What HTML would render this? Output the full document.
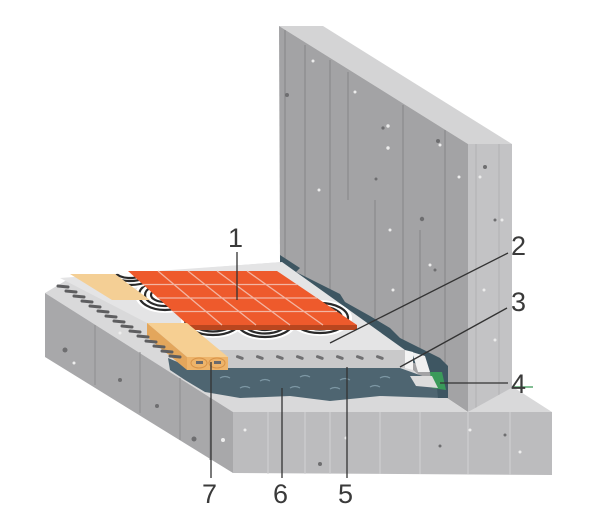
<!DOCTYPE html>
<html><head><meta charset="utf-8"><style>
html,body{margin:0;padding:0;background:#fff;width:600px;height:530px;overflow:hidden}
svg{display:block}
text{font-family:"Liberation Sans",sans-serif;font-size:27px;fill:#3a3a3a}
</style></head><body>
<svg width="600" height="530" viewBox="0 0 600 530" xmlns="http://www.w3.org/2000/svg">
<defs>
<clipPath id="scr"><polygon points="60,278 282,262 405,350 187,350 147,323"/></clipPath>
</defs>
<!-- wall -->
<polygon points="323,26 279,26 468,144 512,144" fill="#d4d4d5"/>
<polygon points="279,26 468,144 468,412 447,398 280,262" fill="#a3a3a5"/>
<polygon points="468,144 512,144 512,392 468,412" fill="#c3c3c5"/>
<g stroke="#8a8a8c" stroke-width="1.2">
<line x1="285" y1="30" x2="285" y2="262"/><line x1="305" y1="45" x2="305" y2="280"/>
<line x1="330" y1="60" x2="330" y2="300"/><line x1="348" y1="72" x2="348" y2="200"/>
<line x1="403" y1="105" x2="403" y2="345"/><line x1="445" y1="130" x2="445" y2="390"/>
<line x1="420" y1="230" x2="420" y2="360"/><line x1="375" y1="200" x2="375" y2="330"/>
</g>
<g stroke="#b0b0b2" stroke-width="1"><line x1="499" y1="144" x2="499" y2="395"/><line x1="476" y1="144" x2="476" y2="408"/></g>
<g fill="#ececec"><circle cx="313" cy="61" r="1.5"/><circle cx="355" cy="92" r="1.5"/><circle cx="388" cy="126" r="1.7"/><circle cx="388" cy="148" r="1.7"/><circle cx="390" cy="230" r="1.5"/><circle cx="440" cy="145" r="1.5"/><circle cx="459" cy="177" r="1.5"/><circle cx="319" cy="190" r="1.5"/><circle cx="393" cy="290" r="1.5"/><circle cx="430" cy="265" r="1.5"/><circle cx="480" cy="177" r="1.5"/><circle cx="502" cy="220" r="1.5"/><circle cx="484" cy="290" r="1.5"/><circle cx="495" cy="340" r="1.5"/></g>
<g fill="#6e6e70"><circle cx="287" cy="95" r="2"/><circle cx="383" cy="128" r="1.6"/><circle cx="438" cy="141" r="2"/><circle cx="422" cy="219" r="2.2"/><circle cx="376" cy="179" r="1.5"/><circle cx="485" cy="167" r="2"/><circle cx="495" cy="220" r="1.5"/><circle cx="435" cy="270" r="1.5"/></g>
<!-- slab -->
<polygon points="45,293 70,278 282,262 447,398 468,412 513,387 552,412 233,412" fill="#d9d9da"/>
<polygon points="45,293 233,412 233,473 45,357" fill="#a8a8aa"/>
<polygon points="233,412 552,412 552,475 233,473" fill="#bcbcbe"/>
<line x1="513" y1="387" x2="533" y2="387" stroke="#5aa870" stroke-width="1.5"/>
<g stroke="#8e8e90" stroke-width="1"><line x1="95" y1="325" x2="95" y2="385"/><line x1="140" y1="352" x2="140" y2="413"/><line x1="180" y1="378" x2="180" y2="440"/><line x1="210" y1="398" x2="210" y2="460"/></g>
<g stroke="#d2d2d4" stroke-width="1"><line x1="268" y1="412" x2="268" y2="474"/><line x1="305" y1="412" x2="305" y2="474"/><line x1="330" y1="412" x2="330" y2="474"/><line x1="380" y1="412" x2="380" y2="474"/><line x1="420" y1="412" x2="420" y2="474"/><line x1="468" y1="412" x2="468" y2="474"/><line x1="510" y1="412" x2="510" y2="475"/></g>
<g fill="#6e6e70"><circle cx="65" cy="350" r="2.5"/><circle cx="120" cy="380" r="2"/><circle cx="157" cy="406" r="2"/><circle cx="194" cy="439" r="2.5"/><circle cx="320" cy="464" r="2"/><circle cx="440" cy="446" r="1.5"/><circle cx="505" cy="435" r="1.5"/></g>
<g fill="#eeeeee"><circle cx="74" cy="363" r="1.5"/><circle cx="120" cy="333" r="1.5"/><circle cx="223" cy="440" r="2"/><circle cx="245" cy="430" r="1.5"/><circle cx="346" cy="438" r="1.5"/><circle cx="470" cy="430" r="1.5"/><circle cx="520" cy="452" r="1.5"/></g>
<!-- membrane -->
<path d="M168,358 L187,366 L400,368 L428,378 L446,392 L440,398 L380,396 L330,401 L290,396 L240,398 L205,392 L185,380 L170,370 Z" fill="#4e6571"/>
<g stroke="#7d97a4" stroke-width="1.2" fill="none"><path d="M220,378 q5,-3 10,0 M260,381 q5,-3 10,0 M300,377 q5,-3 10,0 M340,380 q5,-3 10,0 M380,378 q5,-3 10,0 M240,388 q5,-3 10,0 M290,388 q5,-3 10,0 M330,389 q5,-3 10,0 M370,387 q5,-3 10,0"/></g>
<!-- wall base sealant -->
<path d="M280,255 L300,268 L296,272 L320,284 L340,294 L345,302 L370,316 L390,328 L400,338 L420,348 L440,358 L448,366 L448,398 L438,398 L436,378 L425,368 L412,362 L300,290 L280,272 Z" fill="#3e5662"/>
<polygon points="412,352 425,356 430,372 418,372" fill="#f0f0f0"/>
<polygon points="430,372 442,372 446,390 432,388" fill="#3a9a5a"/>
<polygon points="410,376 432,376 438,388 416,386" fill="#dcdcdc"/>
<!-- screed -->
<polygon points="60,278 282,262 405,350 187,350 147,323" fill="#e4e4e5"/>
<polygon points="187,350 405,350 405,368 187,368" fill="#c9c9ca"/>
<polygon points="405,350 413,352 413,370 405,368" fill="#f4f4f4"/>
<g fill="#707072"><g id="pe"><rect x="236" y="356" width="8" height="3" rx="1.5" transform="rotate(20 240 357)"/></g>
<use href="#pe" x="20"/><use href="#pe" x="40"/><use href="#pe" x="60"/><use href="#pe" x="80"/><use href="#pe" x="100"/><use href="#pe" x="120"/><use href="#pe" x="140"/></g>
<!-- heating pipes -->
<g clip-path="url(#scr)" fill="none" stroke="#2a2a2a" stroke-width="2.2">
<g transform="translate(213,320)"><ellipse rx="32" ry="18" fill="#fff" stroke="none"/><ellipse rx="28" ry="15"/><ellipse rx="22" ry="11.5"/><ellipse rx="16" ry="8"/></g>
<g transform="translate(265,322)"><ellipse rx="32" ry="18" fill="#fff" stroke="none"/><ellipse rx="28" ry="15"/><ellipse rx="22" ry="11.5"/><ellipse rx="16" ry="8"/></g>
<g transform="translate(320,318)"><ellipse rx="32" ry="18" fill="#fff" stroke="none"/><ellipse rx="28" ry="15"/><ellipse rx="22" ry="11.5"/><ellipse rx="16" ry="8"/></g>
<g transform="translate(165,295)"><ellipse rx="30" ry="18" fill="#fff" stroke="none"/><ellipse rx="26" ry="15"/><ellipse rx="20" ry="11"/><ellipse rx="14" ry="7"/></g>
<g transform="translate(130,272)"><ellipse rx="30" ry="16" fill="#fff" stroke="none"/><ellipse rx="26" ry="13"/><ellipse rx="20" ry="9"/><ellipse rx="14" ry="6"/></g>
</g>
<!-- tiles -->
<polygon points="188,325 357,325 357,330 188,330" fill="#b9461f"/>
<polygon points="128,271 277,271 357,325 188,325" fill="#ee5a2c"/>
<g stroke="#f3b5a2" stroke-width="1.3">
<line x1="143" y1="284.5" x2="297" y2="284.5"/><line x1="158" y1="298" x2="317" y2="298"/><line x1="173" y1="311.5" x2="337" y2="311.5"/>
<line x1="158" y1="271" x2="222" y2="325"/><line x1="188" y1="271" x2="256" y2="325"/><line x1="217" y1="271" x2="290" y2="325"/><line x1="247" y1="271" x2="323" y2="325"/>
</g>
<!-- boards -->
<polygon points="70,274 115,274 150,300 112,300" fill="#f4cf95"/>
<polygon points="147,323 187,323 228,357 187,357" fill="#f6cf92"/>
<polygon points="147,323 187,357 187,370 147,337" fill="#e3a65c"/>
<polygon points="187,357 228,357 228,370 187,370" fill="#eeb46a"/>
<ellipse cx="199" cy="363" rx="8" ry="5" fill="none" stroke="#d89348"/><ellipse cx="217" cy="363" rx="8" ry="5" fill="none" stroke="#d89348"/>
<rect x="196" y="361" width="7" height="3" fill="#6a6a6c"/><rect x="214" y="361" width="7" height="3" fill="#6a6a6c"/>
<!-- pipe ends on left edge -->
<g stroke="#5e5e60" stroke-width="3" stroke-linecap="round">
<line x1="58" y1="286" x2="68" y2="287"/><line x1="66" y1="291" x2="76" y2="292"/><line x1="74" y1="296" x2="84" y2="297"/><line x1="82" y1="301" x2="92" y2="302"/><line x1="90" y1="306" x2="100" y2="307"/><line x1="98" y1="311" x2="108" y2="312"/><line x1="106" y1="316" x2="116" y2="317"/><line x1="114" y1="321" x2="124" y2="322"/><line x1="122" y1="326" x2="132" y2="327"/><line x1="130" y1="331" x2="140" y2="332"/><line x1="138" y1="336" x2="148" y2="337"/><line x1="146" y1="341" x2="156" y2="342"/><line x1="154" y1="346" x2="164" y2="347"/><line x1="162" y1="351" x2="172" y2="352"/><line x1="170" y1="356" x2="180" y2="357"/>
</g>
<!-- leaders -->
<g stroke="#333" stroke-width="1.3">
<line x1="237" y1="252" x2="237" y2="300"/>
<line x1="508" y1="253" x2="330" y2="343"/>
<line x1="507" y1="308" x2="400" y2="367"/>
<line x1="440" y1="383" x2="508" y2="383"/>
<line x1="347" y1="367" x2="347" y2="478"/>
<line x1="282" y1="388" x2="282" y2="478"/>
<line x1="211" y1="362" x2="211" y2="478"/>
</g>
<text x="228" y="247">1</text>
<text x="511" y="255">2</text>
<text x="511" y="311">3</text>
<text x="511" y="393">4</text>
<text x="338" y="503">5</text>
<text x="273" y="503">6</text>
<text x="202" y="503">7</text>
</svg>
</body></html>
